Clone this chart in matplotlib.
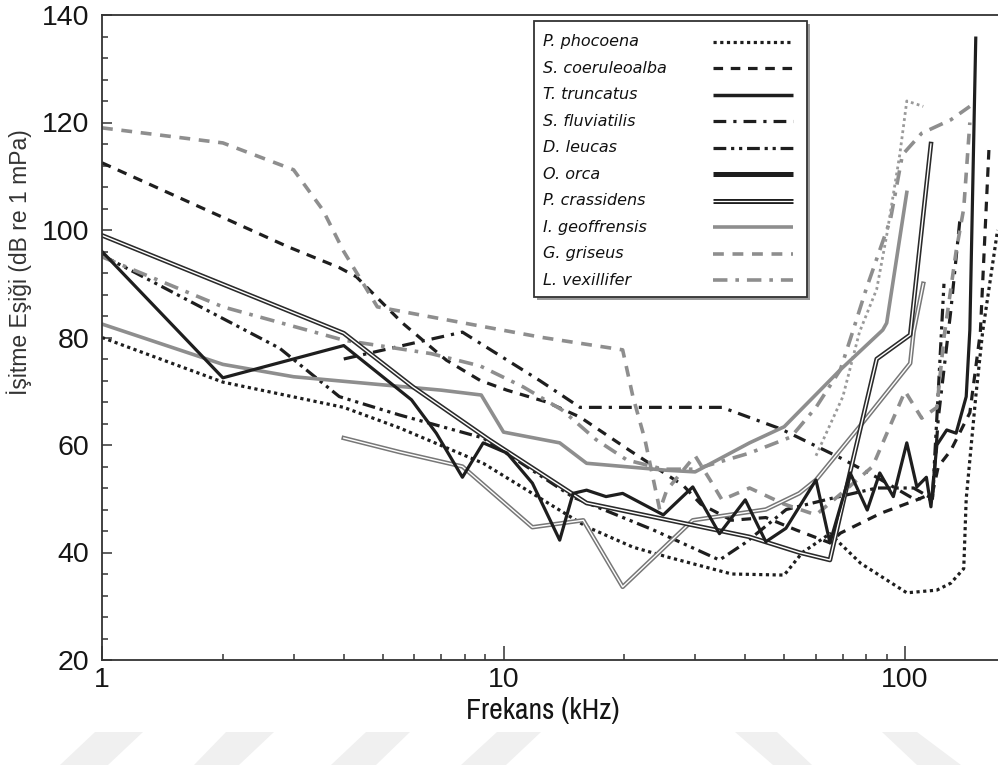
import matplotlib
matplotlib.use('Agg')
import matplotlib.pyplot as plt
from matplotlib import font_manager
from matplotlib.lines import Line2D
from matplotlib.patches import Rectangle, Polygon
from matplotlib.ticker import FixedLocator, MultipleLocator, NullFormatter

# frekans (kHz) ve esik (dB) degerleri
phocoena_f = [1, 2, 4, 5.5, 8.9, 16.1, 21, 25.5, 37, 50, 55.5, 65, 77.5, 101, 120, 130, 140, 142, 147, 150, 156, 170]
phocoena_db = [80, 71.7, 67, 63.2, 56.6, 44.8, 41, 39.2, 36, 35.8, 40, 43.5, 38, 32.5, 33, 34.3, 37, 50, 62, 69, 81, 100]

coer_f = [1, 2.9, 3.9, 4.3, 5.6, 7.2, 8.75, 10.2, 12.8, 15.5, 20.6, 28, 31, 37, 45, 53.5, 65, 69, 87, 107, 117, 121, 130, 145, 154, 162]
coer_db = [112.5, 96.9, 93, 91.3, 82.7, 75.8, 72, 70.2, 68, 65.2, 59, 52.5, 49, 46, 46.5, 44.2, 41.8, 43.6, 47.3, 49.8, 51, 56, 59, 66, 81, 116]

trunc_f = [1, 2, 4, 5.9, 6.8, 7.9, 8.9, 10.2, 11.8, 13.8, 14.9, 16.1, 18, 19.8, 25, 29.6, 34.5, 40, 45, 50.5,
           60, 65, 73, 80.5, 86.5, 93.5, 101, 107, 113, 116, 120, 127, 134, 142, 145, 150]
trunc_db = [96, 72.5, 78.5, 68.4, 62.2, 54, 60.4, 58.5, 52.9, 42.3, 51, 51.6, 50.4, 51, 47, 52.2, 43.5, 49.8, 42, 44.5,
            53.5, 41.8, 54.8, 47.9, 54.8, 50.4, 60.4, 52.2, 54, 48.5, 60, 62.8, 62.2, 69, 81.4, 135.7]

fluv_f = [4, 6, 7.9, 12.3, 15.5, 27.5, 35, 49, 69, 85, 105, 117, 121, 130, 137]
fluv_db = [76, 79, 81, 72, 67, 67, 67, 63, 57.6, 54, 50, 50, 65, 85, 102]

leuc_f = [1, 2.77, 3.9, 5.5, 8.9, 14.9, 23.6, 34.5, 40, 50.6, 65, 85, 105, 117, 121, 125]
leuc_db = [95.3, 78, 69, 65.6, 61.3, 50.3, 44.2, 38.6, 41.8, 48, 50, 52, 52, 50, 70, 90]

orca_f = [4, 5.5, 7.9, 11.8, 15.8, 19.8, 29.6, 45, 54.5, 60, 77, 103, 105, 111]
orca_db = [61.3, 58.7, 56, 44.7, 46, 33.6, 46, 48, 51, 53.5, 63.4, 75.2, 81, 90]

crass_f = [1, 4, 5.95, 9.2, 16.1, 41, 54.5, 65, 73, 85, 103, 116]
crass_db = [99, 80.8, 70.8, 61, 49.2, 42.9, 40, 38.6, 55, 76, 80.5, 116]

geof_f = [1, 2, 3, 7, 8.8, 10, 13.8, 16.1, 25.5, 30, 41, 50, 69, 88, 90, 101]
geof_db = [82.5, 75, 72.7, 70.2, 69.3, 62.4, 60.4, 56.6, 55.3, 55, 60.4, 63.4, 74, 81.4, 82.7, 107]

gris_f = [1, 2, 3, 3.55, 4, 4.85, 6.2, 12.5, 19.8, 21, 22.5, 24.5, 25.5, 30, 33, 35, 41, 50, 60, 72, 83,
          100, 110, 120, 125, 134, 140, 145]
gris_db = [119, 116.2, 111.2, 103.7, 96, 85.7, 84.2, 80, 77.7, 69, 61, 47.9, 51.6, 58, 53, 49.8, 52, 49, 47, 52, 56,
           70, 65, 67, 80, 96, 104, 120]
# 100 kHz civarindaki gri noktali tepe
gris_tepe_f = [60, 70, 77, 85, 90, 97, 101, 111]
gris_tepe_db = [58, 69, 81, 89, 99, 114, 124, 123]

vex_f = [1, 2, 4, 6.6, 8.75, 11.2, 14, 17, 20.3, 25, 30, 41, 52, 60, 69, 74, 80, 92, 98.5, 110, 130, 145]
vex_db = [95, 85.7, 79.5, 77, 74.7, 70.8, 66.5, 61, 57.2, 55.5, 55.5, 58.5, 61.5, 67, 74, 81, 89, 102, 114, 118, 120.5, 123]

names = ['P. phocoena', 'S. coeruleoalba', 'T. truncatus', 'S. fluviatilis', 'D. leucas',
         'O. orca', 'P. crassidens', 'I. geoffrensis', 'G. griseus', 'L. vexillifer']

koyu = '#1e1e1e'
gri = '#8e8e8e'
nokta = (0, (1, 1.1))
kesik = (0, (3, 2.4))
kesiknokta = (0, (4, 2.2, 1, 2.2))
kesik2nokta = (0, (4, 1.5, 1, 1.5, 1, 1.5))

# eksen basligi icin dar yazi tipi (varsa)
mevcut = sorted({f.name for f in font_manager.fontManager.ttflist})
dar = [n for n in mevcut if 'Narrow' in n or 'Condensed' in n]
baslik_font = [dar[0], 'Liberation Sans'] if dar else ['Liberation Sans']
baslik_boy = 21.5 if dar else 19

W, H = 998, 765
def px(x, y):
    return (x / W, 1 - y / H)

fig = plt.figure(figsize=(9.98, 7.65), dpi=100)

# alttaki soluk filigran
for xs in [(60, 108, 143, 95), (194, 239, 274, 226), (331, 376, 410, 366), (461, 506, 541, 497)]:
    fig.add_artist(Polygon([px(xs[0], 765), px(xs[1], 765), px(xs[2], 732), px(xs[3], 732)],
                           closed=True, transform=fig.transFigure, color='#f0f0f0', lw=0))
for xs in [(773, 812, 777, 735), (917, 961, 917, 882)]:
    fig.add_artist(Polygon([px(xs[0], 765), px(xs[1], 765), px(xs[2], 732), px(xs[3], 732)],
                           closed=True, transform=fig.transFigure, color='#f0f0f0', lw=0))

ax = fig.add_axes([102/998, 105/765, 896/998, 645/765])

ax.plot(phocoena_f, phocoena_db, color=koyu, lw=2.3, ls=nokta)
ax.plot(coer_f, coer_db, color=koyu, lw=2.3, ls=kesik)
ax.plot(fluv_f, fluv_db, color=koyu, lw=2.3, ls=kesiknokta)
ax.plot(leuc_f, leuc_db, color=koyu, lw=2.3, ls=kesik2nokta)
ax.plot(vex_f, vex_db, color=gri, lw=2.6, ls=kesiknokta)
ax.plot(gris_f, gris_db, color=gri, lw=2.6, ls=kesik)
ax.plot(gris_tepe_f, gris_tepe_db, color='#9a9a9a', lw=2.0, ls=(0, (1, 1.2)))
ax.plot(geof_f, geof_db, color=gri, lw=2.6)
ax.plot(orca_f, orca_db, color='#777777', lw=3.2)
ax.plot(orca_f, orca_db, color='white', lw=1.0)
ax.plot(crass_f, crass_db, color='#2a2a2a', lw=3.3)
ax.plot(crass_f, crass_db, color='white', lw=1.0)
ax.plot(trunc_f, trunc_db, color=koyu, lw=2.3)

ax.set_xscale('log')
ax.set_xlim(1, 170.4)
ax.set_ylim(20, 140)
ax.xaxis.set_major_locator(FixedLocator([1, 10, 100]))
ax.xaxis.set_minor_locator(FixedLocator([2, 3, 4, 5, 6, 7, 8, 9, 20, 30, 40, 50, 60, 70, 80, 90]))
ax.xaxis.set_minor_formatter(NullFormatter())
ax.set_xticklabels(['1', '10', '100'])
ax.yaxis.set_major_locator(MultipleLocator(20))
ax.yaxis.set_minor_locator(MultipleLocator(4))
ax.tick_params(which='both', direction='in', width=1.1, color='#333333')
ax.tick_params(which='major', length=7)
ax.tick_params(which='minor', length=4)
ax.tick_params(axis='x', which='major', length=10)
ax.tick_params(labelsize=20.5)
ax.tick_params(axis='y', pad=9)
ax.tick_params(axis='x', pad=5)
for lab in ax.get_xticklabels() + ax.get_yticklabels():
    lab.set_family('Liberation Sans')
    lab.set_color('#151515')
ax.spines['right'].set_visible(False)
for s in ['left', 'bottom', 'top']:
    ax.spines[s].set_linewidth(1.3)
    ax.spines[s].set_color('#333333')

ax.set_xlabel('Frekans (kHz)', fontsize=baslik_boy, family=baslik_font, color='#151515')
ax.xaxis.set_label_coords((543 - 102) / 896, -0.057)
fig.text(19/998, 1 - 262/765, 'İşitme Eşiği (dB re 1 mPa)', rotation=90, ha='center', va='center',
         fontsize=16.5, family='Liberation Sans', color='#333333')

# lejant (elle cizilmis kutu)
stiller = [dict(color=koyu, lw=2.3, ls=nokta),
           dict(color=koyu, lw=2.3, ls=kesik),
           dict(color=koyu, lw=2.5),
           dict(color=koyu, lw=2.3, ls=kesiknokta),
           dict(color=koyu, lw=2.3, ls=kesik2nokta),
           dict(color=koyu, lw=3.6),
           dict(color=koyu, lw=3.6),
           dict(color=gri, lw=2.6),
           dict(color=gri, lw=2.6, ls=kesik),
           dict(color=gri, lw=2.6, ls=kesiknokta)]
x0, y0 = px(534, 297)
x1, y1 = px(807, 21)
sx, sy = 3 / W, 3 / H
fig.add_artist(Rectangle((x0 + sx, y0 - sy), x1 - x0, y1 - y0, transform=fig.transFigure,
                         facecolor='#9a9a9a', edgecolor='none', zorder=10))
fig.add_artist(Rectangle((x0, y0), x1 - x0, y1 - y0, transform=fig.transFigure,
                         facecolor='white', edgecolor='#333333', lw=1.3, zorder=11))
for i, (ad, st) in enumerate(zip(names, stiller)):
    yy = 41.7 + 26.5 * i
    fig.text(*px(543, yy), ad, ha='left', va='center', fontsize=11.5, family='DejaVu Sans',
             style='italic', color='#111111', zorder=12)
    hx = [px(713, yy)[0], px(793, yy)[0]]
    hy = [px(713, yy)[1]] * 2
    fig.add_artist(Line2D(hx, hy, transform=fig.transFigure, zorder=12, solid_capstyle='butt', **st))
    if ad == 'P. crassidens':
        fig.add_artist(Line2D(hx, hy, transform=fig.transFigure, zorder=13, color='white', lw=0.9))

fig.savefig('out.png', dpi=100)
